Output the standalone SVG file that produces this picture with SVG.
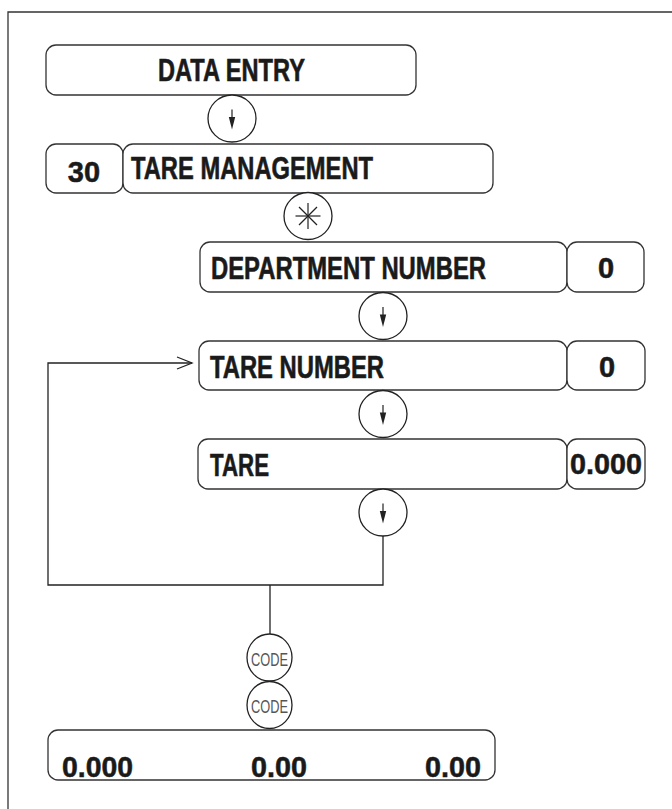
<svg xmlns="http://www.w3.org/2000/svg" width="672" height="809" viewBox="0 0 672 809">
  <style>
    .box { fill: #fff; stroke: #333; stroke-width: 1.3; }
    .key { fill: #fff; stroke: #222; stroke-width: 1.3; }
    .wire { fill: none; stroke: #222; stroke-width: 1.3; }
    .lbl { font-family: "Liberation Sans Narrow", "Liberation Sans", Arial, sans-serif; font-weight: bold; font-size: 31px; fill: #1a1a1a; stroke: #1a1a1a; stroke-width: 0.6; }
    .num { font-family: "Liberation Sans", Arial, sans-serif; font-weight: bold; font-size: 29px; fill: #1a1a1a; stroke: #1a1a1a; stroke-width: 0.5; }
    .code { font-family: "Liberation Sans Narrow", "Liberation Sans", Arial, sans-serif; font-size: 18px; fill: #555; }
  </style>
  <defs>
    <g id="down">
      <line x1="0" y1="-9" x2="0" y2="0" stroke="#222" stroke-width="1.2"/>
      <polygon points="-3.2,-1.5 3.2,-1.5 0,11" fill="#222"/>
    </g>
  </defs>
  <rect width="672" height="809" fill="#fff"/>
  <path d="M8,809 V12 H672" fill="none" stroke="#333" stroke-width="1.3"/>

  <g id="connectors">
    <path class="wire" d="M383,536 V585 H48 V363 H192"/>
    <path class="wire" d="M177,357 L192,363 L177,369"/>
    <line class="wire" x1="270" y1="585" x2="270" y2="634"/>
  </g>

  <g id="data-entry">
    <rect class="box" x="46" y="45" width="370" height="50" rx="10"/>
    <text class="lbl" x="158" y="80.5" textLength="147" lengthAdjust="spacingAndGlyphs">DATA ENTRY</text>
  </g>
  <g id="key-down-1">
    <ellipse class="key" cx="232" cy="118.5" rx="24" ry="23.5"/>
    <use href="#down" x="232" y="118.5"/>
  </g>
  <g id="menu-30">
    <rect class="box" x="46" y="144" width="77" height="49" rx="10"/>
    <text class="num" x="84" y="182" text-anchor="middle">30</text>
  </g>
  <g id="tare-management">
    <rect class="box" x="123" y="144" width="370" height="49" rx="10"/>
    <text class="lbl" x="131" y="178.5" textLength="242" lengthAdjust="spacingAndGlyphs">TARE MANAGEMENT</text>
  </g>
  <g id="key-star">
    <ellipse class="key" cx="308" cy="216" rx="24" ry="23.5"/>
    <g stroke="#222" stroke-width="1.2">
      <line x1="308" y1="203" x2="308" y2="229"/>
      <line x1="295.5" y1="216" x2="320.5" y2="216"/>
      <line x1="299" y1="207" x2="317" y2="225"/>
      <line x1="317" y1="207" x2="299" y2="225"/>
    </g>
  </g>
  <g id="department-number">
    <rect class="box" x="200" y="242" width="367" height="50" rx="10"/>
    <text class="lbl" x="211" y="278.5" textLength="275" lengthAdjust="spacingAndGlyphs">DEPARTMENT NUMBER</text>
  </g>
  <g id="department-value">
    <rect class="box" x="567" y="242" width="77" height="50" rx="10"/>
    <text class="num" x="606" y="277.5" text-anchor="middle">0</text>
  </g>
  <g id="key-down-2">
    <ellipse class="key" cx="383" cy="316" rx="24" ry="23.5"/>
    <use href="#down" x="383" y="316"/>
  </g>
  <g id="tare-number">
    <rect class="box" x="199" y="341" width="368" height="49" rx="10"/>
    <text class="lbl" x="210" y="377.5" textLength="174" lengthAdjust="spacingAndGlyphs">TARE NUMBER</text>
  </g>
  <g id="tare-number-value">
    <rect class="box" x="567" y="341" width="78" height="49" rx="10"/>
    <text class="num" x="607" y="377" text-anchor="middle">0</text>
  </g>
  <g id="key-down-3">
    <ellipse class="key" cx="383" cy="414" rx="24" ry="23.5"/>
    <use href="#down" x="383" y="414"/>
  </g>
  <g id="tare">
    <rect class="box" x="198" y="439" width="369" height="50" rx="10"/>
    <text class="lbl" x="210" y="475.5" textLength="59" lengthAdjust="spacingAndGlyphs">TARE</text>
  </g>
  <g id="tare-value">
    <rect class="box" x="567" y="439" width="78" height="50" rx="10"/>
    <text class="num" x="606" y="473.5" text-anchor="middle" textLength="72" lengthAdjust="spacingAndGlyphs">0.000</text>
  </g>
  <g id="key-down-4">
    <ellipse class="key" cx="383" cy="512.5" rx="24" ry="23.5"/>
    <use href="#down" x="383" y="512.5"/>
  </g>
  <g id="key-code-1">
    <ellipse class="key" cx="269.5" cy="657.5" rx="22.5" ry="23.5"/>
    <text class="code" x="269.5" y="665.5" text-anchor="middle" textLength="37" lengthAdjust="spacingAndGlyphs">CODE</text>
  </g>
  <g id="key-code-2">
    <ellipse class="key" cx="269.5" cy="705" rx="22.5" ry="23.5"/>
    <text class="code" x="269.5" y="712.5" text-anchor="middle" textLength="37" lengthAdjust="spacingAndGlyphs">CODE</text>
  </g>
  <g id="result">
    <rect class="box" x="48" y="730" width="447" height="50" rx="10"/>
    <text class="num" font-size="30" x="62" y="776.5" textLength="71" lengthAdjust="spacingAndGlyphs">0.000</text>
    <text class="num" font-size="30" x="251" y="776.5" textLength="56" lengthAdjust="spacingAndGlyphs">0.00</text>
    <text class="num" font-size="30" x="425" y="776.5" textLength="56" lengthAdjust="spacingAndGlyphs">0.00</text>
  </g>
</svg>
